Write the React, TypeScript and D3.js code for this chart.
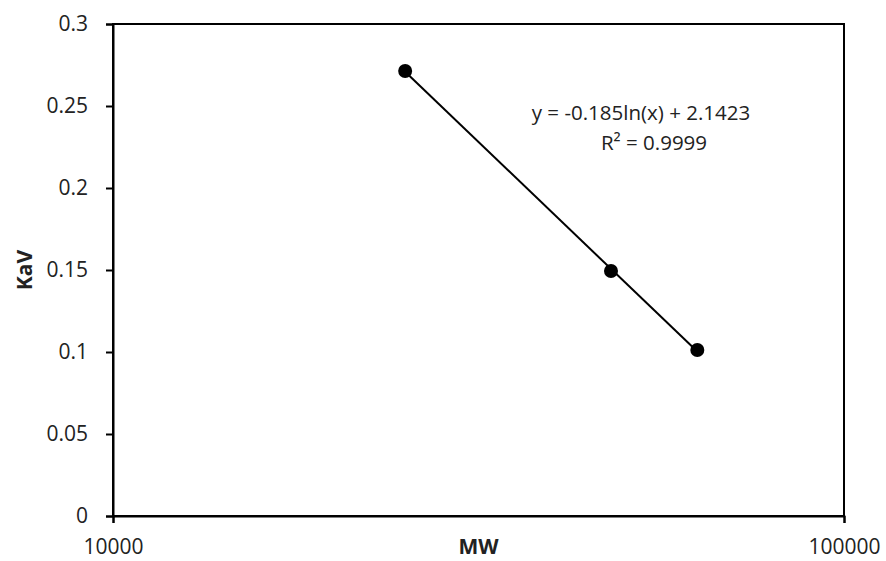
import React, { useEffect, useRef } from "react";
import * as d3 from "d3";

// data
const mwValues = [25100, 48000, 63000];
const kavValues = [0.2713, 0.1494, 0.1012];
const yTicks = [0, 0.05, 0.1, 0.15, 0.2, 0.25, 0.3];
const xTicks = [10000, 100000];
const trendLabels = ["y = -0.185ln(x) + 2.1423", "R\u00b2 = 0.9999"];

const W = 886;
const H = 561;
const margin = { top: 24, right: 42, bottom: 45, left: 113 };
const FONT = "'Open Sans', 'Noto Sans', sans-serif";

export default function App() {
  const svgRef = useRef<SVGSVGElement | null>(null);

  useEffect(() => {
    const svg = d3.select(svgRef.current);
    svg.selectAll("*").remove();

    const x = d3.scaleLog().domain([10000, 100000]).range([margin.left, W - margin.right]);
    const y = d3.scaleLinear().domain([0, 0.3]).range([H - margin.bottom, margin.top]);

    svg.append("rect").attr("width", W).attr("height", H).attr("fill", "#fff");

    // plot border (top + right)
    svg
      .append("rect")
      .attr("x", x.range()[0])
      .attr("y", y.range()[1])
      .attr("width", x.range()[1] - x.range()[0])
      .attr("height", y.range()[0] - y.range()[1])
      .attr("fill", "none")
      .attr("stroke", "#000")
      .attr("stroke-width", 2);

    const yAxis = svg
      .append("g")
      .attr("transform", `translate(${margin.left},0)`)
      .call(
        d3
          .axisLeft(y)
          .tickValues(yTicks)
          .tickSize(7)
          .tickPadding(18)
          .tickFormat((d) => String(+(+d).toFixed(2)))
      );

    const xAxis = svg
      .append("g")
      .attr("transform", `translate(0,${H - margin.bottom})`)
      .call(
        d3
          .axisBottom(x)
          .tickValues(xTicks)
          .tickSize(7)
          .tickPadding(16)
          .tickFormat((d) => String(d))
      );

    [yAxis, xAxis].forEach((g) => {
      g.select(".domain").attr("stroke", "#000").attr("stroke-width", 2);
      g.selectAll(".tick line").attr("stroke", "#000").attr("stroke-width", 2);
      g.selectAll(".tick text")
        .attr("fill", "#222")
        .style("font-family", FONT)
        .style("font-size", "21px");
    });

    // log trendline fitted from the data
    const lx = mwValues.map((v) => Math.log(v));
    const mx = d3.mean(lx)!;
    const my = d3.mean(kavValues)!;
    const slope =
      d3.sum(lx, (v, i) => (v - mx) * (kavValues[i] - my)) / d3.sum(lx, (v) => (v - mx) ** 2);
    const icpt = my - slope * mx;
    const ext = d3.extent(mwValues) as [number, number];
    const line = d3
      .line<number>()
      .x((d) => x(d))
      .y((d) => y(slope * Math.log(d) + icpt));
    svg
      .append("path")
      .attr("d", line(ext))
      .attr("fill", "none")
      .attr("stroke", "#000")
      .attr("stroke-width", 2);

    svg
      .append("g")
      .selectAll("circle")
      .data(mwValues)
      .join("circle")
      .attr("cx", (d) => x(d))
      .attr("cy", (_d, i) => y(kavValues[i]))
      .attr("r", 7)
      .attr("fill", "#000");

    // trendline label
    svg
      .append("g")
      .selectAll("text")
      .data(trendLabels)
      .join("text")
      .attr("x", (_d, i) => (i === 0 ? 641 : 654))
      .attr("y", (_d, i) => 120 + i * 30)
      .attr("text-anchor", "middle")
      .style("font-family", FONT)
      .style("font-size", "20.5px")
      .attr("fill", "#222")
      .text((d) => d);

    // axis titles
    svg
      .append("text")
      .attr("x", (x.range()[0] + x.range()[1]) / 2)
      .attr("y", 554)
      .attr("text-anchor", "middle")
      .style("font-family", FONT)
      .style("font-size", "21px")
      .style("font-weight", 700)
      .attr("fill", "#222")
      .text("MW");

    svg
      .append("text")
      .attr("transform", `translate(32,${(y.range()[0] + y.range()[1]) / 2}) rotate(-90)`)
      .attr("text-anchor", "middle")
      .style("font-family", FONT)
      .style("font-size", "21px")
      .style("font-weight", 700)
      .attr("fill", "#222")
      .text("KaV");
  }, []);

  return (
    <div>
      <style>{`body { margin: 0; }`}</style>
      <svg ref={svgRef} width={W} height={H} style={{ display: "block" }} />
    </div>
  );
}
